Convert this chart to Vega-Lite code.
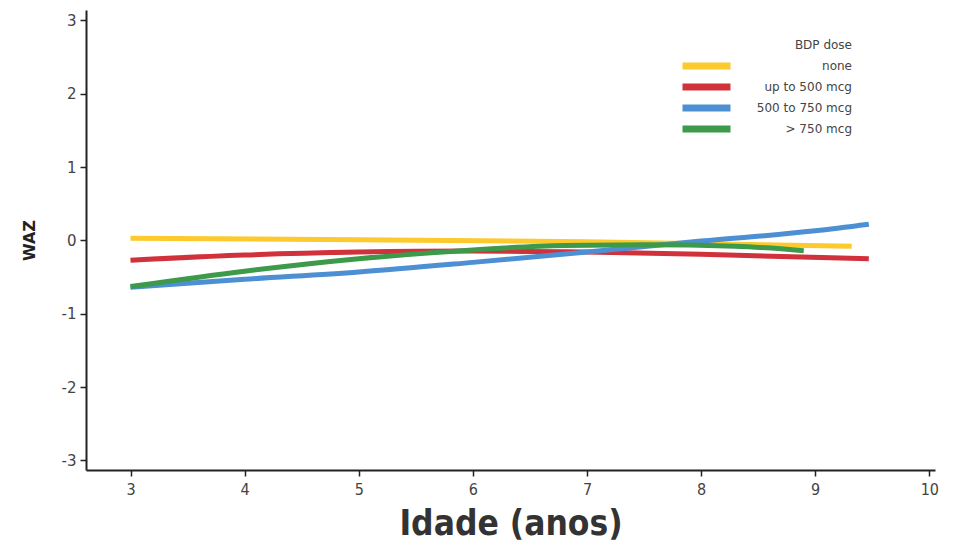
{
  "$schema": "https://vega.github.io/schema/vega-lite/v6.json",
  "width": 849,
  "height": 460,
  "autosize": {"type": "none"},
  "padding": {"left": 86, "top": 10, "right": 24, "bottom": 78},
  "background": "white",
  "config": {"view": {"stroke": null}},
  "data": {"values": [
    {"dose": "none", "age": 3, "waz": 0.03},
    {"dose": "none", "age": 5, "waz": 0.01},
    {"dose": "none", "age": 7, "waz": -0.02},
    {"dose": "none", "age": 9.32, "waz": -0.08},
    {"dose": "up to 500 mcg", "age": 3, "waz": -0.27},
    {"dose": "up to 500 mcg", "age": 4, "waz": -0.2},
    {"dose": "up to 500 mcg", "age": 5, "waz": -0.16},
    {"dose": "up to 500 mcg", "age": 6, "waz": -0.145},
    {"dose": "up to 500 mcg", "age": 7, "waz": -0.16},
    {"dose": "up to 500 mcg", "age": 8, "waz": -0.19},
    {"dose": "up to 500 mcg", "age": 9.47, "waz": -0.25},
    {"dose": "500 to 750 mcg", "age": 3, "waz": -0.64},
    {"dose": "500 to 750 mcg", "age": 4, "waz": -0.53},
    {"dose": "500 to 750 mcg", "age": 5, "waz": -0.43},
    {"dose": "500 to 750 mcg", "age": 6, "waz": -0.3},
    {"dose": "500 to 750 mcg", "age": 7, "waz": -0.16},
    {"dose": "500 to 750 mcg", "age": 8, "waz": -0.01},
    {"dose": "500 to 750 mcg", "age": 9, "waz": 0.13},
    {"dose": "500 to 750 mcg", "age": 9.47, "waz": 0.22},
    {"dose": "> 750 mcg", "age": 3, "waz": -0.63},
    {"dose": "> 750 mcg", "age": 4, "waz": -0.42},
    {"dose": "> 750 mcg", "age": 5, "waz": -0.25},
    {"dose": "> 750 mcg", "age": 6, "waz": -0.13},
    {"dose": "> 750 mcg", "age": 6.8, "waz": -0.07},
    {"dose": "> 750 mcg", "age": 7.5, "waz": -0.06},
    {"dose": "> 750 mcg", "age": 8.3, "waz": -0.08},
    {"dose": "> 750 mcg", "age": 8.9, "waz": -0.14}
  ]},
  "mark": {"type": "line", "strokeWidth": 5, "interpolate": "monotone", "strokeCap": "butt"},
  "encoding": {
    "x": {
      "field": "age", "type": "quantitative",
      "scale": {"domain": [2.61, 10.05], "nice": false, "zero": false},
      "axis": {
        "title": "Idade (anos)", "values": [3,4,5,6,7,8,9,10], "grid": false,
        "domainColor": "#222", "domainWidth": 2, "tickColor": "#222", "tickWidth": 1.5, "tickSize": 6,
        "labelFont": "DejaVu Sans Condensed", "labelFontSize": 16, "labelColor": "#444", "labelPadding": 5,
        "titleFont": "DejaVu Sans Condensed", "titleFontSize": 35, "titleFontWeight": "bold", "titleColor": "#333", "titlePadding": 9
      }
    },
    "y": {
      "field": "waz", "type": "quantitative",
      "scale": {"domain": [-3.13, 3.14], "nice": false, "zero": false},
      "axis": {
        "title": "WAZ", "values": [-3,-2,-1,0,1,2,3], "grid": false,
        "labelExpr": "datum.value + ''",
        "domainColor": "#222", "domainWidth": 2, "tickColor": "#222", "tickWidth": 1.5, "tickSize": 6,
        "labelFont": "DejaVu Sans", "labelFontSize": 15, "labelColor": "#444", "labelPadding": 4,
        "titleFont": "DejaVu Sans", "titleFontSize": 16, "titleFontWeight": "bold", "titleColor": "#222", "titlePadding": 24
      }
    },
    "color": {
      "field": "dose", "type": "nominal",
      "scale": {"domain": ["none", "up to 500 mcg", "500 to 750 mcg", "> 750 mcg"], "range": ["#fcca2c", "#d1313a", "#4c8fd2", "#3d9a4a"]},
      "legend": {
        "title": "BDP dose", "orient": "none", "legendX": 593, "legendY": 30,
        "titleAnchor": "end", "titleFont": "DejaVu Sans", "titleFontSize": 12, "titleFontWeight": "normal", "titleColor": "#444", "titlePadding": 6,
        "labelFont": "DejaVu Sans", "labelFontSize": 12, "labelColor": "#444", "labelAlign": "right", "labelOffset": 118,
        "symbolType": "stroke", "symbolSize": 2304, "symbolStrokeWidth": 7, "clipHeight": 16, "rowPadding": 5, "symbolOpacity": 1
      }
    }
  }
}
